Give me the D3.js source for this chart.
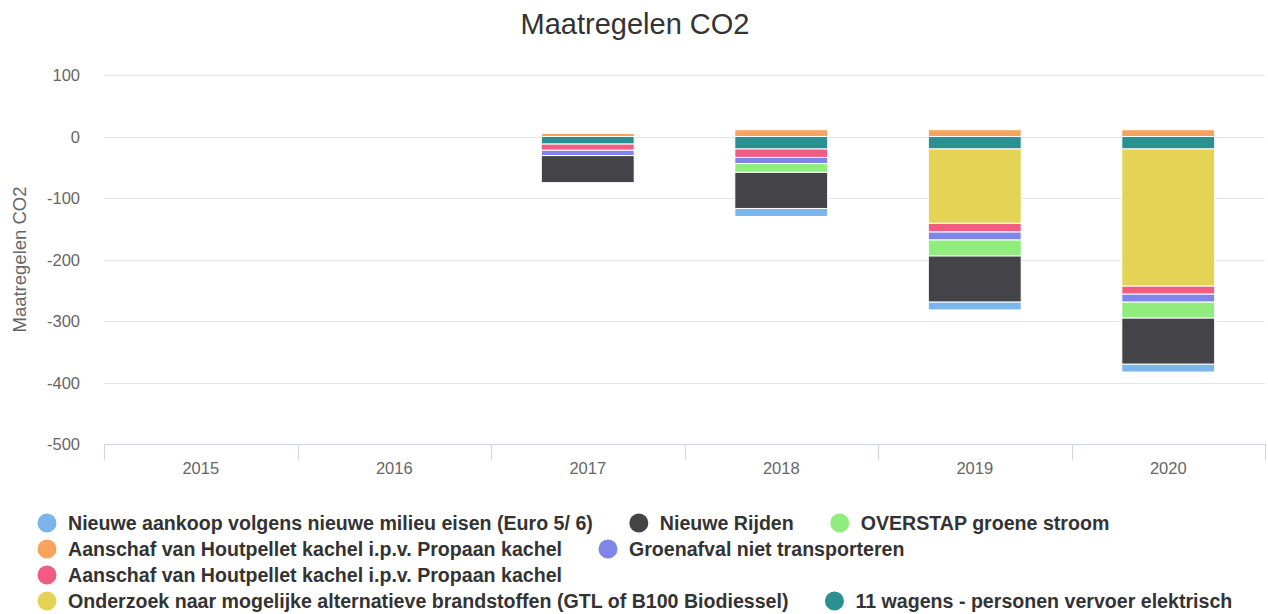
<!DOCTYPE html>
<html>
<head>
<meta charset="utf-8">
<script src="https://cdn.jsdelivr.net/npm/d3@7"></script>
<style>
  html, body { margin: 0; padding: 0; background: #fff; }
  svg { display: block; font-family: "Liberation Sans", Arial, Helvetica, sans-serif; }
</style>
</head>
<body>
<svg id="chart" width="1268" height="614"></svg>
<script>
const categories = ["2015", "2016", "2017", "2018", "2019", "2020"];
const yTicks = [100, 0, -100, -200, -300, -400, -500];

const seriesNames = [
  "Nieuwe aankoop volgens nieuwe milieu eisen (Euro 5/ 6)",
  "Nieuwe Rijden",
  "OVERSTAP groene stroom",
  "Aanschaf van Houtpellet kachel i.p.v. Propaan kachel",
  "Groenafval niet transporteren",
  "Aanschaf van Houtpellet kachel i.p.v. Propaan kachel",
  "Onderzoek naar mogelijke alternatieve brandstoffen (GTL of B100 Biodiessel)",
  "11 wagens - personen vervoer elektrisch"
];
const seriesColors = ["#7cb5ec", "#434348", "#90ed7d", "#f7a35c", "#8085e9", "#f15c80", "#e4d354", "#2b908f"];

const nieuweAankoop = [null, null, null, -13, -13, -13];
const nieuweRijden = [null, null, -44, -59, -75, -75];
const overstap = [null, null, null, -14, -26, -26];
const houtpellet1 = [null, null, 5, 11, 11, 11];
const groenafval = [null, null, -9, -10, -13, -13];
const houtpellet2 = [null, null, -10, -14, -14, -13];
const onderzoek = [null, null, null, null, -121, -223];
const wagens = [null, null, -12, -20, -20, -20];

const seriesValues = [nieuweAankoop, nieuweRijden, overstap, houtpellet1, groenafval, houtpellet2, onderzoek, wagens];

const svg = d3.select("#chart");
const W = 1268, H = 614;
const plot = { left: 104, right: 1265, top: 75, bottom: 444 };

// Title
svg.append("text")
  .attr("x", W / 2 + 1).attr("y", 34)
  .attr("text-anchor", "middle")
  .attr("fill", "#333333")
  .style("font-size", "29px")
  .text("Maatregelen CO2");

const x = d3.scaleBand().domain(categories).range([plot.left, plot.right]).paddingInner(0).paddingOuter(0);
const y = d3.scaleLinear().domain([-500, 100]).range([plot.bottom, plot.top]);

// Gridlines
svg.append("g").selectAll("line").data(yTicks.filter(t => t !== -500)).join("line")
  .attr("x1", plot.left).attr("x2", plot.right)
  .attr("y1", d => Math.round(y(d)) + 0.5).attr("y2", d => Math.round(y(d)) + 0.5)
  .attr("stroke", "#e6e6e6").attr("stroke-width", 1);

// Y axis labels
const yAxis = d3.axisLeft(y).tickValues(yTicks).tickSize(0).tickPadding(0).tickFormat(d => String(d));
const gy = svg.append("g").attr("transform", `translate(80,0)`).call(yAxis);
gy.select(".domain").remove();
gy.selectAll("text")
  .attr("fill", "#666666")
  .style("font-size", "16.5px")
  .style("font-family", "'Liberation Sans', Arial, sans-serif")
  .attr("dy", "0.36em");

// Y axis title
svg.append("text")
  .attr("transform", `translate(26, ${(plot.top + plot.bottom) / 2}) rotate(-90)`)
  .attr("text-anchor", "middle")
  .attr("fill", "#666666")
  .style("font-size", "18.5px")
  .text("Maatregelen CO2");

// Stacked bars
const table = categories.map((c, i) => {
  const row = { category: c };
  seriesValues.forEach((vals, s) => { row["s" + s] = vals[i] == null ? 0 : vals[i]; });
  return row;
});
const keys = seriesValues.map((_, s) => "s" + s);
const stack = d3.stack().keys(keys).order(d3.stackOrderReverse).offset(d3.stackOffsetDiverging);
const stacked = stack(table);

const groupPadding = 0.2, pointPadding = 0.1;
const slot = x.bandwidth() * (1 - 2 * groupPadding);
const barW = slot * (1 - 2 * pointPadding);

const barsG = svg.append("g");
stacked.forEach((layer, s) => {
  barsG.append("g").selectAll("rect")
    .data(layer.filter((d, i) => seriesValues[s][i] != null))
    .join("rect")
    .attr("x", d => x(d.data.category) + (x.bandwidth() - barW) / 2)
    .attr("width", barW)
    .attr("y", d => y(Math.max(d[0], d[1])))
    .attr("height", d => Math.abs(y(d[0]) - y(d[1])))
    .attr("fill", seriesColors[s])
    .attr("stroke", "#ffffff")
    .attr("stroke-width", 1);
});

// X axis
const xAxis = d3.axisBottom(x).tickSize(0).tickPadding(0);
const gx = svg.append("g").attr("transform", `translate(0,${plot.bottom})`).call(xAxis);
gx.select(".domain").remove();
gx.selectAll("text")
  .attr("fill", "#666666")
  .style("font-size", "16.5px")
  .style("font-family", "'Liberation Sans', Arial, sans-serif")
  .attr("y", 30).attr("dy", 0);
svg.append("line")
  .attr("x1", plot.left).attr("x2", plot.right)
  .attr("y1", plot.bottom + 0.5).attr("y2", plot.bottom + 0.5)
  .attr("stroke", "#ccd6eb");
const boundaries = categories.map(c => x(c)).concat([x(categories[categories.length - 1]) + x.bandwidth()]);
svg.append("g").selectAll("line").data(boundaries).join("line")
  .attr("x1", d => Math.round(d) + 0.5).attr("x2", d => Math.round(d) + 0.5)
  .attr("y1", plot.bottom).attr("y2", plot.bottom + 16)
  .attr("stroke", "#ccd6eb");

// Legend (flow layout)
const legend = svg.append("g");
const legendStartX = 47, legendMaxX = 1250, rowH = 26, firstRowY = 523;
const symR = 9.5, textOffset = 21, itemGap = 46;
let cx = legendStartX, cy = firstRowY;
seriesNames.forEach((name, s) => {
  const g = legend.append("g");
  const t = g.append("text")
    .attr("fill", "#333333")
    .style("font-size", "19.6px")
    .style("font-weight", "bold")
    .attr("dy", "0.35em")
    .text(name);
  const tw = t.node().getComputedTextLength();
  if (cx !== legendStartX && cx + textOffset + tw > legendMaxX) {
    cx = legendStartX; cy += rowH;
  }
  g.attr("transform", `translate(${cx},${cy})`);
  g.insert("circle", "text").attr("cx", 0).attr("cy", 0).attr("r", symR).attr("fill", seriesColors[s]);
  t.attr("x", textOffset);
  cx = cx + textOffset + tw + itemGap;
});
</script>
</body>
</html>
